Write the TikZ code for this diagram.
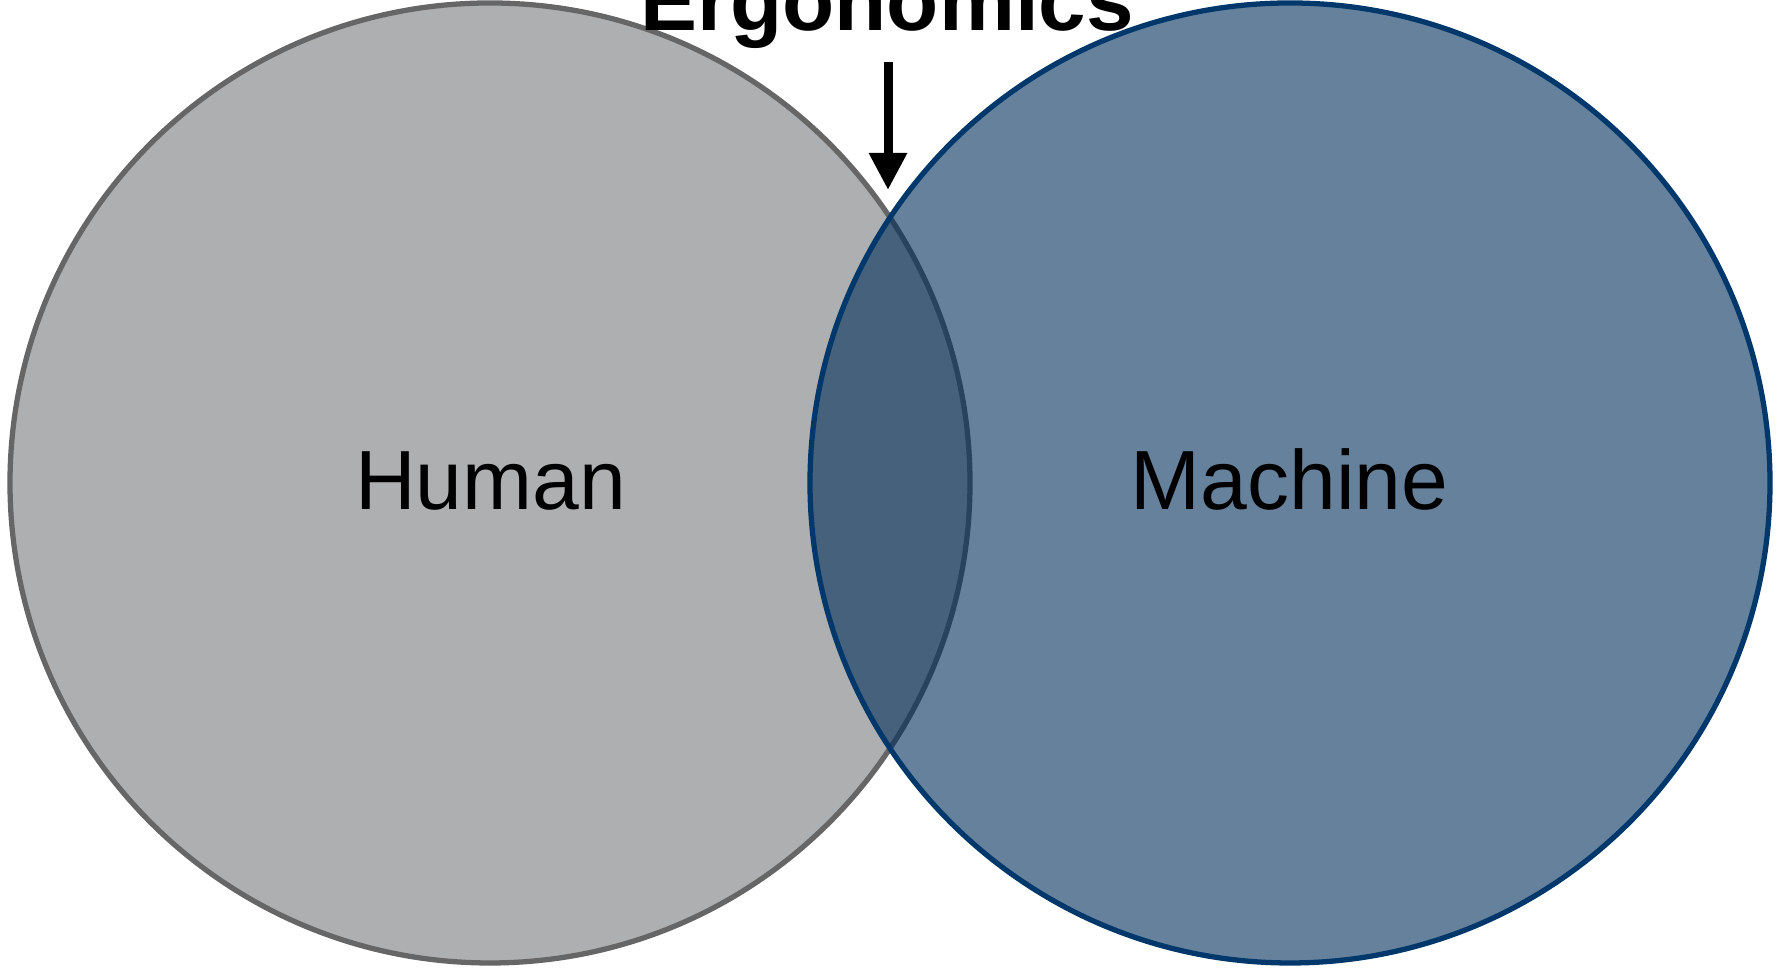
\documentclass[tikz,border=0pt]{standalone}
\usepackage{fontspec}
\setmainfont{Liberation Sans}
\usetikzlibrary{arrows.meta}
\definecolor{hmgray}{RGB}{174,175,177}
\definecolor{hmgrayline}{RGB}{102,102,102}
\definecolor{hmblue}{RGB}{0,45,90}
\definecolor{hmblueline}{RGB}{0,56,107}

\begin{document}
\begin{tikzpicture}[
  side/.style={circle, minimum size=9.6cm, inner sep=0pt, line width=1.5pt},
  label/.style={anchor=base, font=\fontsize{23.9}{28}\selectfont},
  arrow/.style={-{Triangle[width=0.36cm,length=0.37cm]}, line width=0.09cm, shorten <=0.12cm}
]
\useasboundingbox (0,0) rectangle (17.89,9.71);

% Circles
\node[side, draw=hmgrayline, fill=hmgray] (human) at (4.90,4.88) {};
\node[side, fill=hmblue, fill opacity=0.6] (machine) at (12.90,4.88) {};
\draw[hmblueline, line width=1.5pt] (machine.center) circle (4.8cm);

% Labels
\node[label] (humanlabel) at (4.905,4.61) {Human};
\node[label] (machinelabel) at (12.895,4.61) {Machine};

% Title and arrow
\node[anchor=base, inner sep=0pt, font=\fontsize{24.3}{28}\selectfont\bfseries] (title) at (8.87,9.40) {Ergonomics};
\coordinate (overlap) at (8.88,7.81);
\draw[arrow] (title.south -| overlap) -- (overlap);

\end{tikzpicture}
\end{document}
